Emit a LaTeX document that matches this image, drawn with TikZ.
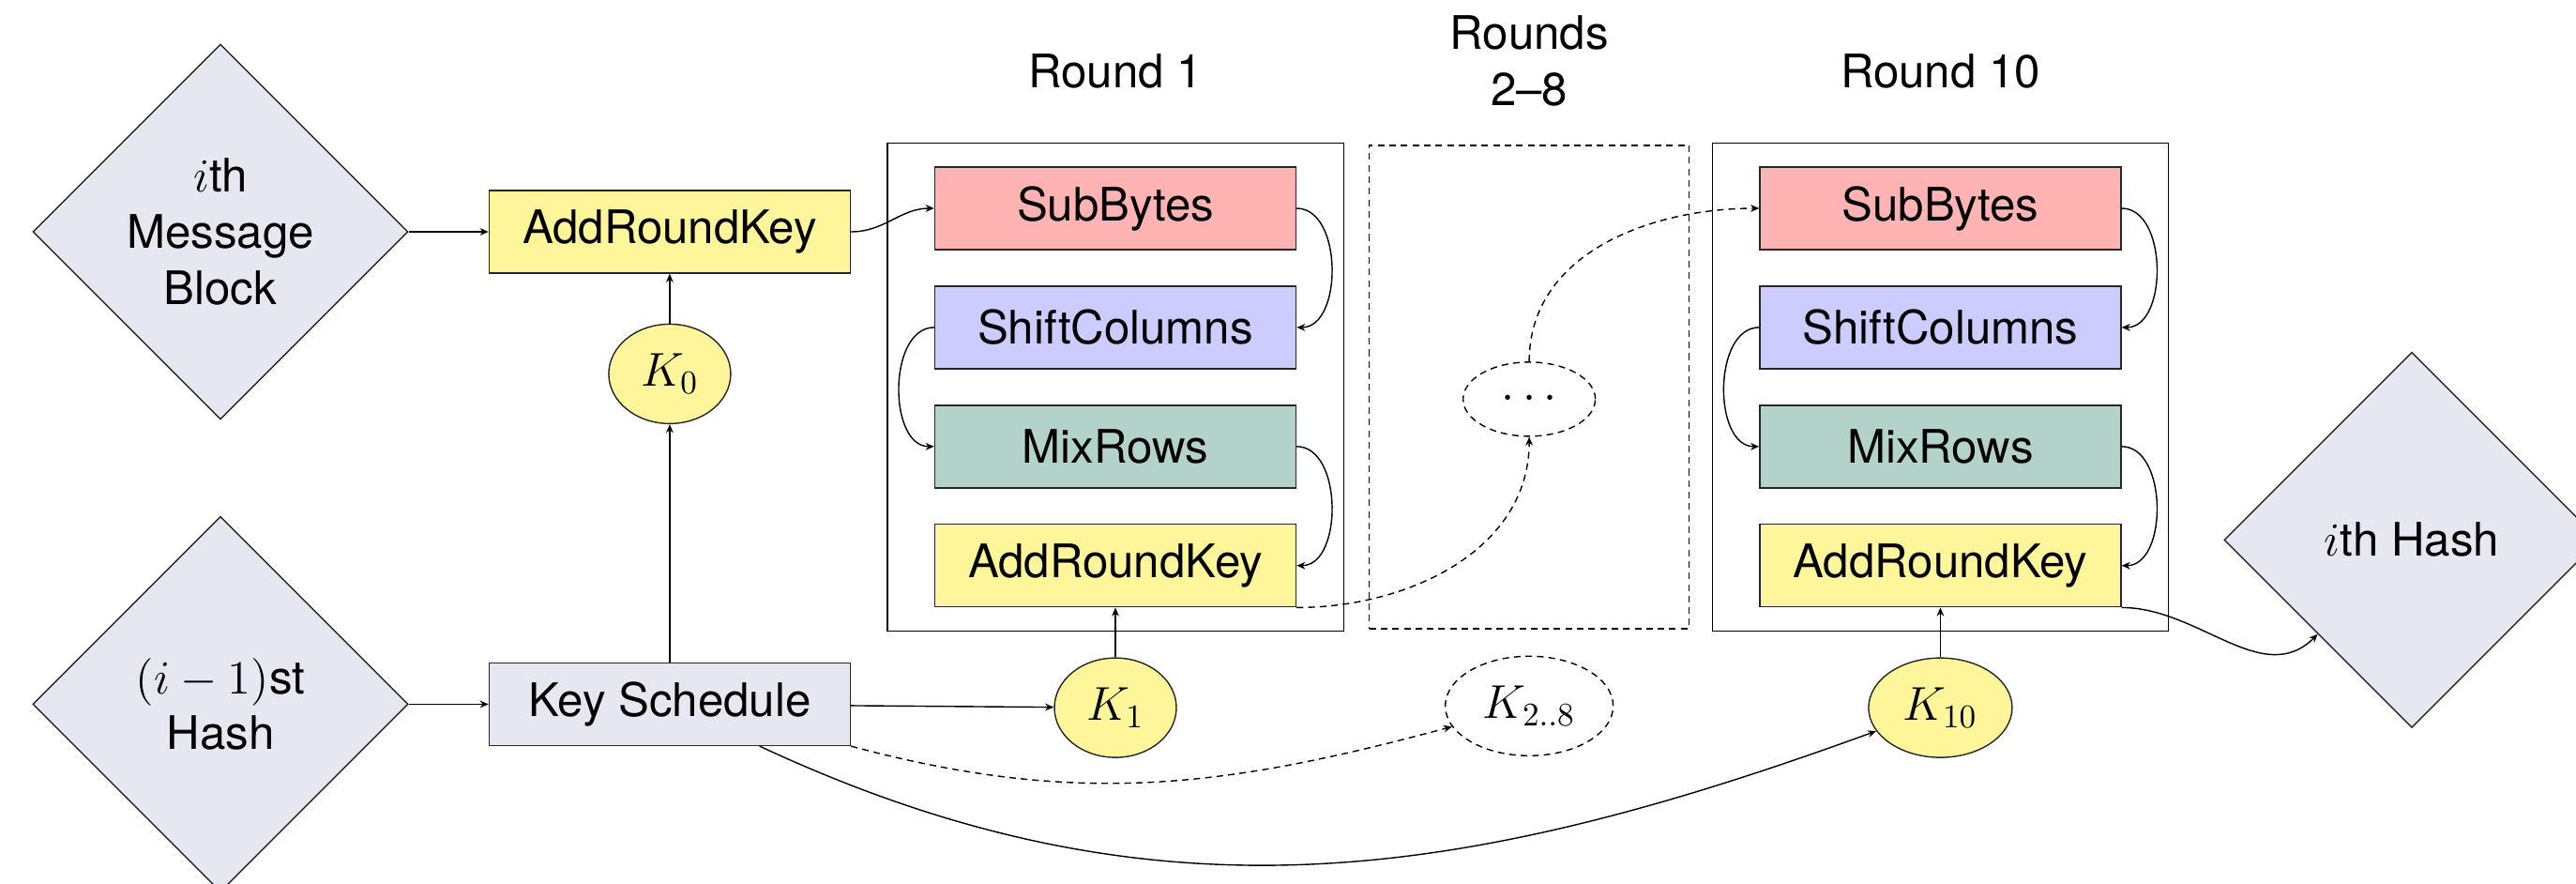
\documentclass[tikz,border=0pt]{standalone}
\usepackage[no-math]{fontspec}
\setsansfont{TeX Gyre Heros}
\usepackage{xcolor}
\usepackage{tikz}
\usetikzlibrary{positioning,shapes.geometric,arrows.meta,fit}

\definecolor{sbfill}{RGB}{255,179,179}
\definecolor{scfill}{RGB}{204,204,255}
\definecolor{mrfill}{RGB}{179,210,201}
\definecolor{akfill}{RGB}{255,245,155}
\definecolor{hsfill}{RGB}{230,231,240}

\begin{document}
\begin{tikzpicture}[
  font=\sffamily\fontsize{14}{17}\selectfont,
  op/.style={draw=black!85, minimum width=38.5mm, minimum height=8.8mm, inner sep=0pt},
  dia/.style={draw=black!85, diamond, aspect=1, fill=hsfill, align=center,
    minimum width=40mm, minimum height=40mm, inner sep=0pt},
  kel/.style={draw=black!85, ellipse, fill=akfill, minimum height=10.6mm, inner sep=0pt},
  rnd/.style={draw, inner xsep=5mm, inner ysep=2.5mm},
  dsh/.style={dash pattern=on 2pt off 1.5pt},
  arr/.style={-{Stealth[length=2.6pt, width=2.2pt]}},
]
\useasboundingbox (0,0) rectangle (27.46,-9.41);
\node[dia] (msg) at (2.35,-2.47) {$i$th\\Message\\Block};
\node[op, fill=akfill, right=8.5mm of msg] (ark0) {AddRoundKey};
\node[dia, below=10.2mm of msg] (prev) {$(i-1)$st\\Hash};
\node[op, fill=hsfill, right=8.5mm of prev] (ks) {Key Schedule};
\node[kel, minimum width=13mm, below=5.3mm of ark0] (k0) {$K_0$};

% round 1
\node[op, fill=sbfill] (sb1) at (11.89,-2.22) {SubBytes};
\node[op, fill=scfill, below=3.75mm of sb1] (sc1) {ShiftColumns};
\node[op, fill=mrfill, below=3.75mm of sc1] (mr1) {MixRows};
\node[op, fill=akfill, below=3.75mm of mr1] (ark1) {AddRoundKey};
\node[rnd, fit=(sb1)(ark1)] (r1) {};
\node[above=4.5mm of r1] (t1) {Round 1};
\node[kel, minimum width=13mm, below=5.3mm of ark1] (k1) {$K_1$};

% rounds 2-8
\node[draw, dsh, minimum width=34.1mm, minimum height=51.5mm, right=2.6mm of r1] (r28) {};
\node[above=2.9mm of r28, align=center] (t28) {Rounds\\2--8};
\node[draw, dsh, ellipse, minimum width=14.1mm, minimum height=7.9mm, inner sep=0pt,
  below=23.1mm of r28.north] (dots) {$\cdots$};
\node[draw, dsh, ellipse, minimum width=17.9mm, minimum height=10.6mm, inner sep=0pt,
  below=2.8mm of r28] (k28) {$K_{2..8}$};

% round 10
\node[op, fill=sbfill, right=49.3mm of sb1] (sb10) {SubBytes};
\node[op, fill=scfill, below=3.75mm of sb10] (sc10) {ShiftColumns};
\node[op, fill=mrfill, below=3.75mm of sc10] (mr10) {MixRows};
\node[op, fill=akfill, below=3.75mm of mr10] (ark10) {AddRoundKey};
\node[rnd, fit=(sb10)(ark10)] (r10) {};
\node[above=4.5mm of r10] (t10) {Round 10};
\node[kel, minimum width=15.3mm, below=5.3mm of ark10] (k10) {$K_{10}$};
\node[dia, right=5.8mm of r10, yshift=-16.3mm] (ihash) {$i$th Hash};

\draw[arr] (msg) -- (ark0);
\draw[arr] (prev) -- (ks);
\draw[arr] (ks) -- (k0);
\draw[arr] (k0) -- (ark0);
\draw[arr] (ark0.east) to[out=0, in=180] (sb1.west);
\draw[arr] (sb1.east) to[out=0, in=0] (sc1.east);
\draw[arr] (sc1.west) to[out=180, in=180] (mr1.west);
\draw[arr] (mr1.east) to[out=0, in=0] (ark1.east);
\draw[arr] (ks) -- (k1);
\draw[arr] (k1) -- (ark1);
\draw[arr, dsh] (ark1.south east) to[out=0, in=-90] (dots.south);
\draw[arr, dsh] (dots.north) to[out=90, in=180] (sb10.west);
\draw[arr, dsh] (ks.south east) to[out=-15, in=-165] (k28);
\draw[arr] (sb10.east) to[out=0, in=0] (sc10.east);
\draw[arr] (sc10.west) to[out=180, in=180] (mr10.west);
\draw[arr] (mr10.east) to[out=0, in=0] (ark10.east);
\draw[arr] (ks) to[out=-25, in=-160] (k10);
\draw[arr] (k10) -- (ark10);
\draw[arr] (ark10.south east) to[out=0, in=-135] (ihash);
\end{tikzpicture}
\end{document}
